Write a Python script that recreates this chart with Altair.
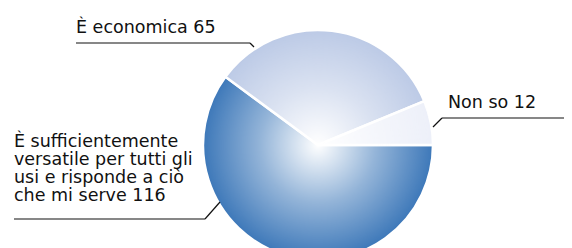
import math
import altair as alt
import pandas as pd

categories = [
    "È sufficientemente versatile per tutti gli usi e risponde a ciò che mi serve",
    "È economica",
    "Non so",
]
values = [116, 65, 12]
label_lines = [
    ["È sufficientemente", "versatile per tutti gli", "usi e risponde a ciò", "che mi serve 116"],
    ["È economica 65"],
    ["Non so 12"],
]
colors = ["#3d78b9", "#bccae6", "#edf0f9"]

df = pd.DataFrame({"cat": categories, "value": values, "idx": [0, 1, 2]})

CX, CY, R = 310, 137, 115
FONT = "DejaVu Sans"
FS = 17.5

pie = alt.Chart(df).mark_arc(outerRadius=R, stroke="white", strokeWidth=2.5).encode(
    theta=alt.Theta("value:Q", stack=True,
                    scale=alt.Scale(range=[math.pi / 2, math.pi / 2 + 2 * math.pi])),
    color=alt.Color("cat:N", scale=alt.Scale(domain=categories, range=colors), legend=None),
    order=alt.Order("idx:Q"),
    x=alt.value(CX),
    y=alt.value(CY),
)

grad = {
    "gradient": "radial",
    "x1": 0.5, "y1": 0.5, "r1": 0,
    "x2": 0.5, "y2": 0.5, "r2": 0.5,
    "stops": [
        {"offset": 0, "color": "rgba(255,255,255,1)"},
        {"offset": 0.5, "color": "rgba(255,255,255,0.45)"},
        {"offset": 1, "color": "rgba(255,255,255,0)"},
    ],
}
overlay = alt.Chart(pd.DataFrame({"v": [1]})).mark_arc(
    theta=0, theta2=2 * math.pi, outerRadius=R, fill=grad
).encode(x=alt.value(CX), y=alt.value(CY))

lab_df = pd.DataFrame({"lab": label_lines, "idx": [0, 1, 2]})
label_pos = {0: (6, 139), 1: (68, 25), 2: (440, 100)}

texts = []
for i, (lx, ly) in label_pos.items():
    texts.append(
        alt.Chart(lab_df[lab_df.idx == i]).mark_text(
            align="left", baseline="alphabetic", font=FONT, fontSize=FS,
            lineHeight=18, color="#111111"
        ).encode(text="lab", x=alt.value(lx), y=alt.value(ly))
    )

segments = [
    (6, 211, 197, 211), (197, 211, 212, 194),
    (68, 35, 242, 35), (242, 35, 246, 39),
    (425, 119, 434, 110), (434, 110, 564, 110),
]
rules = [
    alt.Chart(lab_df.head(1)).mark_rule(color="#111111", strokeWidth=1.2).encode(
        x=alt.value(a), y=alt.value(b), x2=alt.value(c), y2=alt.value(d)
    )
    for a, b, c, d in segments
]

chart = alt.layer(pie, overlay, *texts, *rules).properties(
    width=556, height=240, padding=0, autosize=alt.AutoSizeParams(type="none")
).configure_view(stroke=None)

chart.save("out.html", embed_options={"renderer": "svg", "actions": False})
